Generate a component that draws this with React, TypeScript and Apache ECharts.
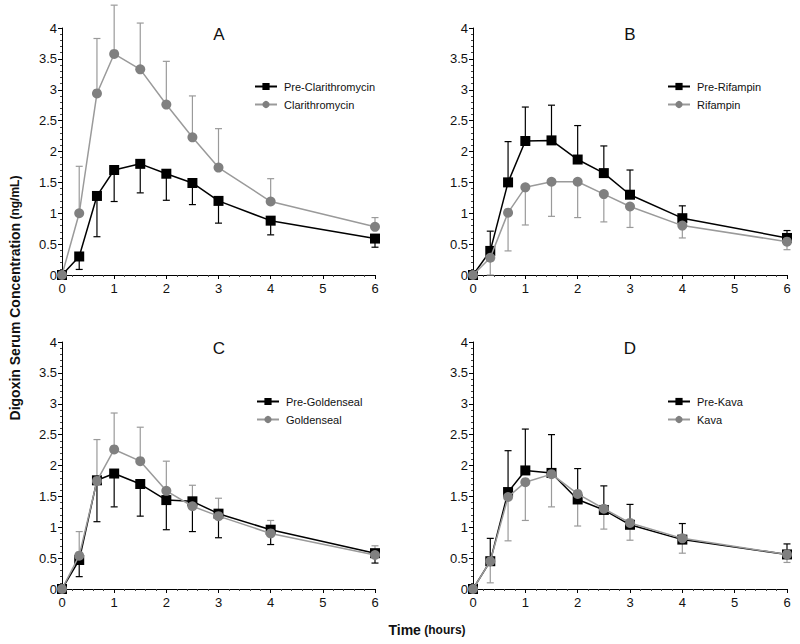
import React, { useEffect, useRef } from "react";
import * as echarts from "echarts";

// ---- Data ----
const times = [0, 0.33, 0.67, 1, 1.5, 2, 2.5, 3, 4, 6];
const xTicks = [0, 1, 2, 3, 4, 5, 6];
const yTicks = [0, 0.5, 1, 1.5, 2, 2.5, 3, 3.5, 4];
const panelLetters = ["A", "B", "C", "D"];

// Panel A
const preClarithromycin = [0, 0.3, 1.28, 1.7, 1.8, 1.64, 1.49, 1.2, 0.88, 0.59];
const preClarithromycinErrEnd = [0, 0.09, 0.62, 1.19, 1.33, 1.21, 1.14, 0.84, 0.65, 0.45];
const clarithromycin = [0, 1.0, 2.94, 3.58, 3.33, 2.76, 2.23, 1.74, 1.19, 0.78];
const clarithromycinErrEnd = [0, 1.76, 3.83, 4.37, 4.08, 3.46, 2.9, 2.37, 1.56, 0.93];

// Panel B
const preRifampin = [0, 0.39, 1.5, 2.17, 2.18, 1.87, 1.65, 1.3, 0.92, 0.6];
const preRifampinErrEnd = [0, 0.71, 2.16, 2.72, 2.75, 2.42, 2.09, 1.7, 1.12, 0.72];
const rifampin = [0, 0.28, 1.01, 1.42, 1.51, 1.51, 1.31, 1.11, 0.8, 0.54];
const rifampinErrEnd = [0, 0.0, 0.39, 0.81, 0.95, 0.93, 0.86, 0.77, 0.6, 0.41];

// Panel C
const preGoldenseal = [0, 0.47, 1.76, 1.87, 1.7, 1.44, 1.42, 1.22, 0.96, 0.58];
const preGoldensealErrEnd = [0, 0.2, 1.09, 1.33, 1.18, 0.96, 0.93, 0.83, 0.72, 0.42];
const goldenseal = [0, 0.54, 1.75, 2.26, 2.07, 1.59, 1.34, 1.18, 0.9, 0.55];
const goldensealErrEnd = [0, 0.93, 2.42, 2.85, 2.62, 2.07, 1.68, 1.47, 1.11, 0.7];

// Panel D
const preKava = [0, 0.45, 1.57, 1.92, 1.88, 1.45, 1.28, 1.04, 0.8, 0.56];
const preKavaErrEnd = [0, 0.82, 2.24, 2.59, 2.5, 1.95, 1.67, 1.37, 1.06, 0.73];
const kava = [0, 0.45, 1.49, 1.73, 1.86, 1.54, 1.3, 1.07, 0.82, 0.56];
const kavaErrEnd = [0, 0.1, 0.78, 1.11, 1.33, 1.02, 0.97, 0.79, 0.58, 0.43];

const panels = [
  { pre: ["Pre-Clarithromycin", preClarithromycin, preClarithromycinErrEnd], post: ["Clarithromycin", clarithromycin, clarithromycinErrEnd] },
  { pre: ["Pre-Rifampin", preRifampin, preRifampinErrEnd], post: ["Rifampin", rifampin, rifampinErrEnd] },
  { pre: ["Pre-Goldenseal", preGoldenseal, preGoldensealErrEnd], post: ["Goldenseal", goldenseal, goldensealErrEnd] },
  { pre: ["Pre-Kava", preKava, preKavaErrEnd], post: ["Kava", kava, kavaErrEnd] },
];

// ---- Layout / style ----
const FONT = "'Liberation Sans', Arial, sans-serif";
const BLACK = "#000000";
const GREY_LINE = "#9a9a9a";
const GREY_MARK = "#808080";
const grids = [
  { left: 62, top: 28, width: 313, height: 247 },
  { left: 473, top: 28, width: 314, height: 247 },
  { left: 62, top: 342, width: 313, height: 247 },
  { left: 473, top: 342, width: 314, height: 247 },
];
const legendPos = [
  { left: 249, top: 76 },
  { left: 662, top: 76 },
  { left: 251, top: 391 },
  { left: 662, top: 391 },
];

function errSeries(idx: number, vals: number[], ends: number[], color: string) {
  return {
    type: "custom",
    xAxisIndex: idx,
    yAxisIndex: idx,
    silent: true,
    clip: false,
    z: 2,
    encode: { x: 0, y: 1 },
    data: times.map((t, i) => [t, vals[i], ends[i]]),
    renderItem: (params: any, api: any) => {
      const x = api.value(0);
      const y = api.value(1);
      const e = api.value(2);
      if (Math.abs(e - y) < 1e-9) return { type: "group", children: [] };
      const p0 = api.coord([x, y]);
      const p1 = api.coord([x, e]);
      const cap = 3.5;
      const style = { stroke: color, lineWidth: 1.2 };
      return {
        type: "group",
        children: [
          { type: "line", shape: { x1: p0[0], y1: p0[1], x2: p1[0], y2: p1[1] }, style },
          { type: "line", shape: { x1: p1[0] - cap, y1: p1[1], x2: p1[0] + cap, y2: p1[1] }, style },
        ],
      };
    },
  };
}

function lineSeries(idx: number, name: string, vals: number[], isPre: boolean) {
  return {
    type: "line",
    name,
    xAxisIndex: idx,
    yAxisIndex: idx,
    z: isPre ? 3 : 4,
    symbol: isPre ? "rect" : "circle",
    symbolSize: isPre ? 10 : 10,
    showSymbol: true,
    clip: false,
    lineStyle: { color: isPre ? BLACK : GREY_LINE, width: 1.5 },
    itemStyle: { color: isPre ? BLACK : GREY_MARK, borderWidth: 0 },
    data: times.map((t, i) => [t, vals[i]]),
  };
}

export default function App() {
  const ref = useRef<HTMLDivElement>(null);
  useEffect(() => {
    if (!ref.current) return;
    const chart = echarts.init(ref.current, undefined, { renderer: "svg" });
    const series: any[] = [];
    panels.forEach((p, i) => {
      series.push(errSeries(i, p.post[1] as number[], p.post[2] as number[], GREY_LINE));
      series.push(errSeries(i, p.pre[1] as number[], p.pre[2] as number[], BLACK));
      series.push(lineSeries(i, p.pre[0] as string, p.pre[1] as number[], true));
      series.push(lineSeries(i, p.post[0] as string, p.post[1] as number[], false));
    });
    const option: any = {
      animation: false,
      backgroundColor: "#ffffff",
      textStyle: { fontFamily: FONT },
      grid: grids.map((g) => ({ ...g, containLabel: false })),
      xAxis: grids.map((_, i) => ({
        type: "value",
        gridIndex: i,
        min: xTicks[0],
        max: xTicks[xTicks.length - 1],
        interval: 1,
        axisLine: { onZero: false, lineStyle: { color: BLACK, width: 1 } },
        axisTick: { show: true, length: 4, lineStyle: { color: BLACK } },
        minorTick: { show: true, splitNumber: 5, length: 2, lineStyle: { color: "#444" } },
        splitLine: { show: false },
        axisLabel: { color: "#111", fontSize: 13, fontFamily: FONT, margin: 7 },
      })),
      yAxis: grids.map((_, i) => ({
        type: "value",
        gridIndex: i,
        min: yTicks[0],
        max: yTicks[yTicks.length - 1],
        interval: 0.5,
        axisLine: { show: true, onZero: false, lineStyle: { color: BLACK, width: 1 } },
        axisTick: { show: true, length: 4, lineStyle: { color: BLACK } },
        minorTick: { show: true, splitNumber: 5, length: 2, lineStyle: { color: "#444" } },
        splitLine: { show: false },
        axisLabel: { color: "#111", fontSize: 13, fontFamily: FONT, margin: 5 },
      })),
      legend: panels.map((p, i) => ({
        orient: "vertical",
        left: legendPos[i].left,
        top: legendPos[i].top,
        itemWidth: 22,
        itemHeight: 9,
        itemGap: 7,
        selectedMode: false,
        textStyle: { fontSize: 11, color: "#111", fontFamily: FONT, padding: [0, 0, 0, 2] },
        data: [p.pre[0], p.post[0]],
      })),
      graphic: [
        ...panelLetters.map((L, i) => ({
          type: "text",
          x: grids[i].left + 157,
          y: grids[i].top + 6,
          style: { text: L, fontSize: 17, fontFamily: FONT, fill: "#111", align: "center", verticalAlign: "middle" },
        })),
        {
          type: "text",
          x: 15,
          y: 298,
          rotation: Math.PI / 2,
          style: {
            text: "{a|Digoxin Serum Concentration} {b|(ng/mL)}",
            align: "center",
            verticalAlign: "middle",
            rich: {
              a: { fontSize: 14, fontWeight: "bold", fontFamily: FONT, fill: "#111" },
              b: { fontSize: 12, fontWeight: "bold", fontFamily: FONT, fill: "#111" },
            },
          },
        },
        {
          type: "text",
          x: 427,
          y: 630,
          style: {
            text: "{a|Time} {b|(hours)}",
            align: "center",
            verticalAlign: "middle",
            rich: {
              a: { fontSize: 14, fontWeight: "bold", fontFamily: FONT, fill: "#111" },
              b: { fontSize: 12, fontWeight: "bold", fontFamily: FONT, fill: "#111" },
            },
          },
        },
      ],
      series,
    };
    chart.setOption(option);
    return () => chart.dispose();
  }, []);
  return (
    <div
      ref={ref}
      style={{ position: "fixed", left: 0, top: 0, width: 800, height: 644, background: "#fff" }}
    />
  );
}
